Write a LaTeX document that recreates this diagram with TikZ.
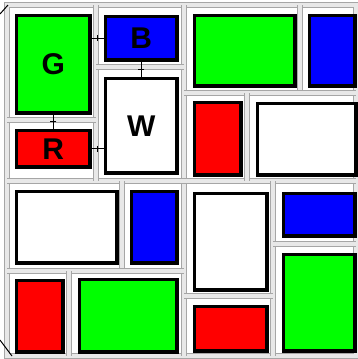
\documentclass[tikz,border=0pt]{standalone}
\usepackage{fontspec}
\setmainfont{Liberation Sans}
\usetikzlibrary{decorations.markings}
\definecolor{pgreen}{RGB}{0,255,0}
\definecolor{pblue}{RGB}{0,0,255}
\definecolor{pred}{RGB}{255,0,0}
\newcommand{\subpx}[7]{%
  \node[subbox, fill=#2, anchor=north west, minimum width={#5-#3-3.5pt}, minimum height={#6-#4-3.5pt}]
    (#1) at ({#3+1.75},{#4+1.75}) {#7};}
\begin{document}
\begin{tikzpicture}[x=1pt,y=-1pt,
  subbox/.style={draw=black, line width=3.5pt, inner sep=0pt, font=\fontsize{30}{30}\selectfont\bfseries},
  divider/.style={draw=gray!70, line width=0.8pt, double=gray!18, double distance=3.5pt},
  link/.style={draw=black, line width=1.2pt,
    postaction={decorate, decoration={markings, mark=at position 0.5 with {\draw[line width=0.9pt] (0,-3) -- (0,3);}}}}]
\useasboundingbox (0,0) rectangle (358,359);
\fill[white] (0,0) rectangle (358,359);
% cell dividers
\draw[divider] (7,5) rectangle (356,356);
\draw[divider] (184,5) -- (184,356);
\draw[divider] (7,181) -- (356,181);
\draw[divider] (96,5) -- (96,181);
\draw[divider] (7,120) -- (96,120);
\draw[divider] (96,67) -- (184,67);
\draw[divider] (300,5) -- (300,93);
\draw[divider] (184,93) -- (356,93);
\draw[divider] (247,93) -- (247,181);
\draw[divider] (122,181) -- (122,271);
\draw[divider] (7,271) -- (184,271);
\draw[divider] (69,271) -- (69,356);
\draw[divider] (273,181) -- (273,356);
\draw[divider] (184,296) -- (273,296);
\draw[divider] (273,244) -- (356,244);
% corner strokes
\draw[black, line width=1pt] (0,14) -- (8,5);
\draw[black, line width=1pt] (0,340) -- (12,356);
% top-left quadrant
\subpx{G}{pgreen}{13}{12}{90}{113}{G}
\subpx{B}{pblue}{102}{13}{177}{60}{B}
\subpx{W}{white}{102}{75}{177}{173}{W}
\subpx{R}{pred}{13}{127}{90}{167}{\raisebox{-6pt}{R}}
% top-right quadrant
\subpx{g2}{pgreen}{191}{12}{295}{86}{}
\subpx{b2}{pblue}{306}{12}{355}{86}{}
\subpx{r2}{pred}{191}{99}{241}{175}{}
\subpx{w2}{white}{254}{100}{356}{175}{}
% bottom-left quadrant
\subpx{w3}{white}{13}{188}{117}{263}{}
\subpx{b3}{pblue}{128}{188}{177}{263}{}
\subpx{r3}{pred}{13}{277}{63}{352}{}
\subpx{g3}{pgreen}{76}{276}{177}{352}{}
% bottom-right quadrant
\subpx{w4}{white}{191}{190}{267}{290}{}
\subpx{b4}{pblue}{280}{190}{355}{236}{}
\subpx{r4}{pred}{191}{303}{267}{351}{}
\subpx{g4}{pgreen}{280}{251}{355}{351}{}
% connectors
\draw[link] (G.south) -- (R.north);
\draw[link] (B.west -| G.east) -- (B.west);
\draw[link] (B.south) -- (W.north);
\draw[link] (R.east) -- (R.east -| W.west);
\end{tikzpicture}
\end{document}
